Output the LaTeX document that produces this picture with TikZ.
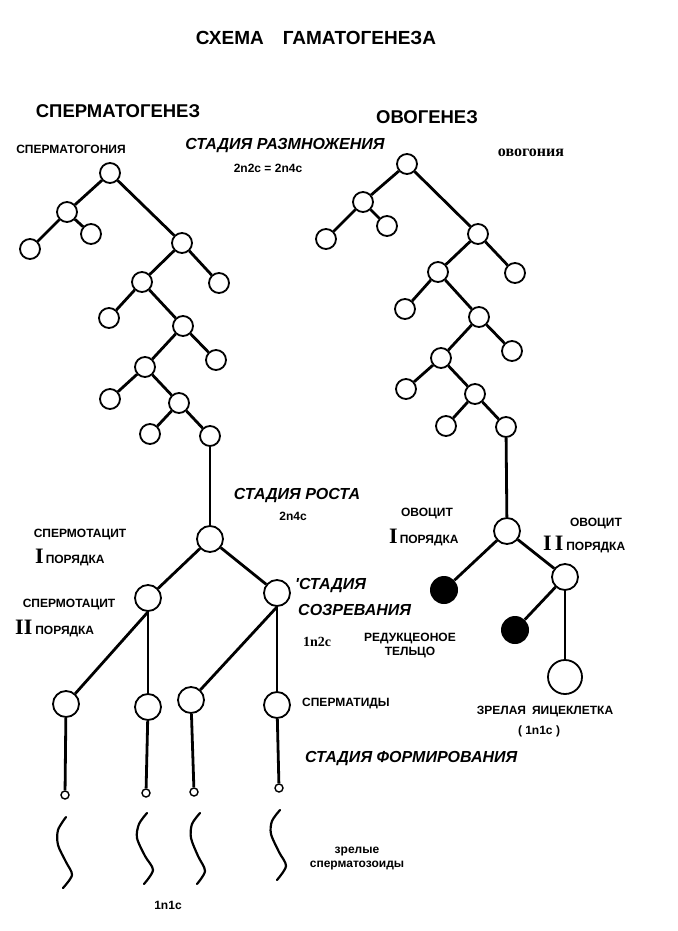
\documentclass[tikz,border=0pt]{standalone}
\usepackage{fontspec}
\setmainfont{Liberation Sans}
\newfontfamily\serifface{Liberation Serif}
\tikzset{
  cell/.style={circle, draw, line width=1.8pt, minimum size=20pt, inner sep=0pt},
  bigcell/.style={cell, minimum size=26pt},
  polar/.style={circle, fill=black, minimum size=28pt, inner sep=0pt},
  headcell/.style={circle, draw, line width=1.4pt, minimum size=8pt, inner sep=0pt},
  link/.style={line width=2.8pt},
  tail/.style={line width=2.2pt, line cap=round},
  lab/.style={font=\bfseries\fontsize{12}{14}\selectfont, inner sep=0pt},
  stage/.style={font=\bfseries\itshape\fontsize{16}{18}\selectfont, inner sep=0pt},
  part/.style={font=\bfseries\fontsize{18.5}{20}\selectfont, inner sep=0pt},
}
\newcommand{\rn}[1]{{\serifface\bfseries\fontsize{22}{22}\selectfont #1}}
\begin{document}
\begin{tikzpicture}[x=1pt, y=-1pt]
\useasboundingbox (0,0) rectangle (677,931);
% Titles
\node[font=\bfseries\fontsize{19}{21}\selectfont, inner sep=0pt] (title) at (316,38) {СХЕМА\hspace{1em}ГАМАТОГЕНЕЗА};
\node[part] (spermgen) at (118,111) {СПЕРМАТОГЕНЕЗ};
\node[part] (oogen) at (427,117) {ОВОГЕНЕЗ};
% Spermatogenesis: multiplication
\node[cell] (t1) at (110,173) {};
\node[cell] (a1) at (67,212) {};
\node[cell] (a2) at (30,249) {};
\node[cell] (a3) at (91,234) {};
\node[cell] (b1) at (182,243) {};
\node[cell] (c1) at (142,282) {};
\node[cell] (c2) at (219,283) {};
\node[cell] (d1) at (109,318) {};
\node[cell] (d2) at (183,326) {};
\node[cell] (e1) at (145,367) {};
\node[cell] (e2) at (216,360) {};
\node[cell] (f1) at (110,399) {};
\node[cell] (f2) at (179,403) {};
\node[cell] (g1) at (150,434) {};
\node[cell] (g2) at (210,436) {};
% Spermatocytes and spermatids
\node[bigcell] (s1) at (210,539) {};
\node[bigcell] (s2a) at (148,598) {};
\node[bigcell] (s2b) at (277,593) {};
\node[bigcell] (p1) at (66,704) {};
\node[bigcell] (p2) at (148,707) {};
\node[bigcell] (p3) at (191,700) {};
\node[bigcell] (p4) at (277,705) {};
\node[headcell] (h1) at (65,795) {};
\node[headcell] (h2) at (146,793) {};
\node[headcell] (h3) at (194,792) {};
\node[headcell] (h4) at (279,788) {};
\foreach \a/\b in {t1/a1, t1/b1, a1/a2, a1/a3, b1/c1, b1/c2, c1/d1, c1/d2,
  d2/e1, d2/e2, e1/f1, e1/f2, f2/g1, f2/g2, g2/s1, s1/s2a, s1/s2b,
  p1/h1, p2/h2, p3/h3, p4/h4}
  \draw[link] (\a) -- (\b);
\foreach \a/\b in {s2a/p1, s2a/p2, s2b/p3, s2b/p4}
  \draw[link] (\a.south) -- (\b);
% Tails
\draw[tail] plot[smooth] coordinates {(66,817) (58,830) (58,845) (66,862) (72,875) (63,888)};
\draw[tail] plot[smooth] coordinates {(147,813) (139,824) (137,838) (145,856) (153,870) (144,884)};
\draw[tail] plot[smooth] coordinates {(200,813) (192,824) (191,838) (198,856) (205,871) (197,884)};
\draw[tail] plot[smooth] coordinates {(280,810) (272,821) (271,834) (279,852) (286,866) (277,880)};
% Oogenesis: multiplication
\node[cell] (o1) at (407,164) {};
\node[cell] (oa1) at (363,202) {};
\node[cell] (oa2) at (326,239) {};
\node[cell] (oa3) at (387,226) {};
\node[cell] (ob1) at (478,234) {};
\node[cell] (oc1) at (438,272) {};
\node[cell] (oc2) at (515,273) {};
\node[cell] (od1) at (405,309) {};
\node[cell] (od2) at (479,317) {};
\node[cell] (oe1) at (441,358) {};
\node[cell] (oe2) at (512,351) {};
\node[cell] (of1) at (406,389) {};
\node[cell] (of2) at (475,394) {};
\node[cell] (og1) at (446,426) {};
\node[cell] (og2) at (506,427) {};
% Oocytes and polar bodies
\node[bigcell] (q1) at (507,531) {};
\node[bigcell] (q2) at (565,577) {};
\node[polar] (pb1) at (444,590) {};
\node[polar] (pb2) at (515,630) {};
\node[cell, minimum size=34pt] (egg) at (565,677) {};
\foreach \a/\b in {o1/oa1, o1/ob1, oa1/oa2, oa1/oa3, ob1/oc1, ob1/oc2, oc1/od1, oc1/od2,
  od2/oe1, od2/oe2, oe1/of1, oe1/of2, of2/og1, of2/og2, og2/q1, q1/pb1, q1/q2, q2/pb2}
  \draw[link] (\a) -- (\b);
\draw[link] (q2.south) -- (egg);
% Labels
\node[lab] (lgonia) at (71,149) {СПЕРМАТОГОНИЯ};
\node[stage] (lmult) at (285,146) {СТАДИЯ РАЗМНОЖЕНИЯ};
\node[lab] (lmultf) at (268,168) {2n2c = 2n4c};
\node[font=\serifface\bfseries\fontsize{16}{18}\selectfont, inner sep=0pt] (logonia) at (531,153) {овогония};
\node[stage] (lgrowth) at (297,496) {СТАДИЯ РОСТА};
\node[lab] (lgrowthf) at (293,516) {2n4c};
\node[lab] (lcyte1) at (80,535) {СПЕРМОТАЦИТ};
\node[lab, anchor=base west] (lord1) at (35,563) {\rn{I}\hspace{2pt}ПОРЯДКА};
\node[lab] (lcyte2) at (69,604) {СПЕРМОТАЦИТ};
\node[lab, anchor=base west] (lord2) at (15,634) {\rn{II}\hspace{3pt}ПОРЯДКА};
\node[stage, anchor=west] (lmat1) at (295,586) {\textquotesingle СТАДИЯ};
\node[stage, anchor=west] (lmat2) at (298,610) {СОЗРЕВАНИЯ};
\node[font=\serifface\bfseries\fontsize{14}{16}\selectfont, inner sep=0pt] (lmatf) at (317,642) {1n2c};
\node[lab] (locyte1) at (427,514) {ОВОЦИТ};
\node[lab, anchor=base west] (loord1) at (389,543) {\rn{I}\hspace{2pt}ПОРЯДКА};
\node[lab] (locyte2) at (596,523) {ОВОЦИТ};
\node[lab, anchor=base west] (loord2) at (543,550) {\rn{I\hspace{3pt}I}\hspace{3pt}ПОРЯДКА};
\node[lab, align=center] (lpolar) at (410,645) {РЕДУКЦЕОНОЕ\\ТЕЛЬЦО};
\node[lab, anchor=west] (ltids) at (302,703) {СПЕРМАТИДЫ};
\node[lab] (legg) at (545,712) {ЗРЕЛАЯ\hspace{0.5em}ЯИЦЕКЛЕТКА};
\node[lab] (leggf) at (539,731) {( 1n1c )};
\node[stage, anchor=west] (lform) at (305,758) {СТАДИЯ ФОРМИРОВАНИЯ};
\node[lab, align=center] (lsperm) at (357,858) {зрелые\\сперматозоиды};
\node[lab] (lspermf) at (168,905) {1n1c};
\end{tikzpicture}
\end{document}
